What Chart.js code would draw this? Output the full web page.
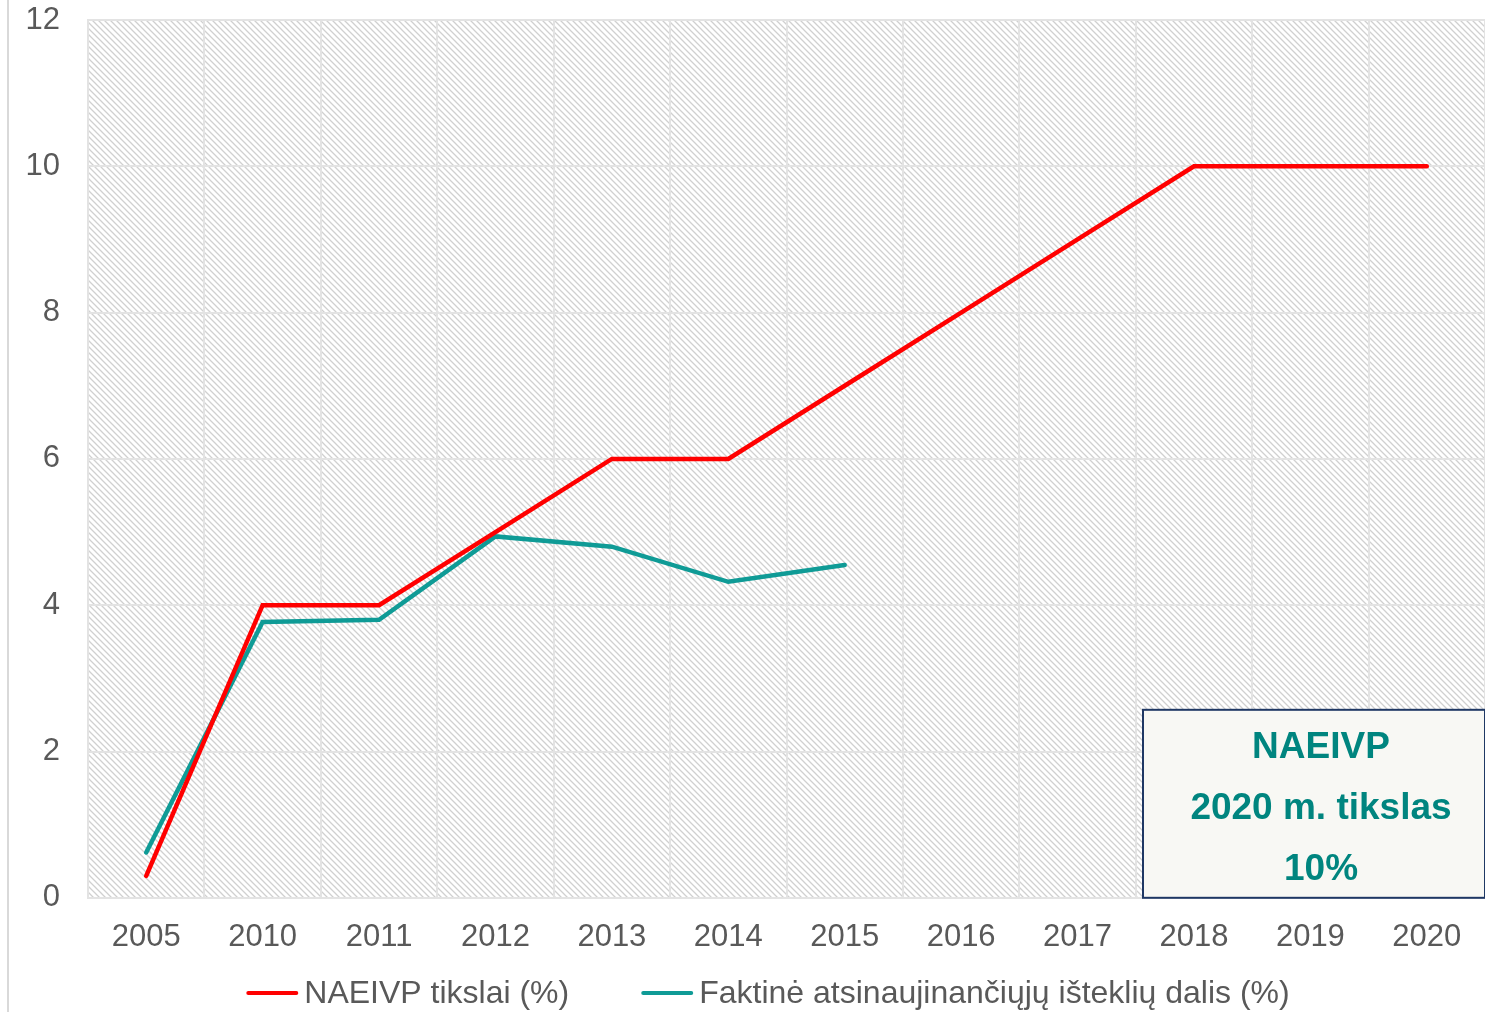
<!DOCTYPE html>
<html>
<head>
<meta charset="utf-8">
<script src="https://cdn.jsdelivr.net/npm/chart.js@4.4.1/dist/chart.umd.min.js"></script>
<style>
    html, body { margin: 0; padding: 0; background: #fff; }
    #wrap { position: relative; width: 1485px; height: 1012px; }
    #edge { position: absolute; left: 7px; top: 0; width: 2px; height: 1012px; background: #d9d9d9; }
</style>
</head>
<body>
<div id="wrap">
    <div id="edge"></div>
    <canvas id="lineChart" width="1485" height="1012"></canvas>
</div>
<script>
// ===== DATA =====
const years = ['2005', '2010', '2011', '2012', '2013', '2014', '2015', '2016', '2017', '2018', '2019', '2020'];
const targetValues = [0.3, 4, 4, 5, 6, 6, 7, 8, 9, 10, 10, 10];
const actualValues = [0.62, 3.77, 3.8, 4.94, 4.8, 4.32, 4.55, null, null, null, null, null];
const seriesNames = ['NAEIVP tikslai (%)', 'Faktinė atsinaujinančiųjų išteklių dalis (%)'];
const boxLines = ['NAEIVP', '2020 m. tikslas', '10%'];

const FONT = '"Liberation Sans", Arial, sans-serif';

// Hatched background pattern
function makeHatch() {
    const c = document.createElement('canvas');
    c.width = 6; c.height = 6;
    const g = c.getContext('2d');
    g.fillStyle = '#ffffff';
    g.fillRect(0, 0, 6, 6);
    g.strokeStyle = '#d0d0d0';
    g.lineWidth = 1.3;
    g.beginPath();
    g.moveTo(-1, -1); g.lineTo(7, 7);
    g.moveTo(-1, 5); g.lineTo(1, 7);
    g.moveTo(5, -1); g.lineTo(7, 1);
    g.stroke();
    return c;
}

const hatchPlugin = {
    id: 'hatch',
    beforeDraw(chart) {
        const { ctx, chartArea } = chart;
        const pat = ctx.createPattern(makeHatch(), 'repeat');
        ctx.save();
        ctx.fillStyle = pat;
        ctx.fillRect(chartArea.left, chartArea.top, chartArea.right - chartArea.left, chartArea.bottom - chartArea.top);
        ctx.restore();
    }
};

// Target note box in the lower right corner
const notePlugin = {
    id: 'note',
    afterDatasetsDraw(chart) {
        const { ctx, chartArea } = chart;
        const w = 342, h = 188;
        const x = chartArea.right - w, y = chartArea.bottom - h;
        ctx.save();
        ctx.fillStyle = '#f8f8f4';
        ctx.fillRect(x, y, w, h);
        ctx.strokeStyle = '#1f3864';
        ctx.lineWidth = 2;
        ctx.strokeRect(x, y, w, h);
        ctx.fillStyle = '#00857f';
        ctx.font = 'bold 37px ' + FONT;
        ctx.textAlign = 'center';
        ctx.textBaseline = 'middle';
        boxLines.forEach((t, i) => {
            ctx.fillText(t, x + w / 2 + 7, y + 38 + i * 61);
        });
        ctx.restore();
    }
};

// Custom legend under the axis (built from the datasets)
const legendPlugin = {
    id: 'customLegend',
    afterDraw(chart) {
        const { ctx } = chart;
        const lineW = 52, gap = 6, itemGap = 72;
        ctx.save();
        ctx.font = '32px ' + FONT;
        const items = chart.data.datasets.map(ds => ({
            text: ds.label, color: ds.borderColor, w: lineW + gap + ctx.measureText(ds.label).width
        }));
        const total = items.reduce((a, it) => a + it.w, 0) + itemGap * (items.length - 1);
        let x = 768 - total / 2;
        const y = 993;
        items.forEach(it => {
            ctx.strokeStyle = it.color;
            ctx.lineWidth = 4;
            ctx.lineCap = 'round';
            ctx.beginPath();
            ctx.moveTo(x + 2, y);
            ctx.lineTo(x + lineW - 2, y);
            ctx.stroke();
            ctx.fillStyle = '#595959';
            ctx.textAlign = 'left';
            ctx.textBaseline = 'middle';
            ctx.fillText(it.text, x + lineW + gap, y + 1);
            x += it.w + itemGap;
        });
        ctx.restore();
    }
};

function createLineChart() {
    const ctx = document.getElementById('lineChart');
    if (!ctx) return;

    new Chart(ctx, {
        type: 'line',
        data: {
            labels: years,
            datasets: [{
                label: seriesNames[0],
                data: targetValues,
                borderColor: '#ff0000',
                backgroundColor: '#ff0000',
                borderWidth: 4.5,
                borderCapStyle: 'round',
                pointRadius: 0,
                tension: 0
            }, {
                label: seriesNames[1],
                data: actualValues,
                borderColor: '#0f9b96',
                backgroundColor: '#0f9b96',
                borderWidth: 4.5,
                borderCapStyle: 'round',
                pointRadius: 0,
                tension: 0,
                spanGaps: false
            }]
        },
        options: {
            responsive: false,
            animation: false,
            layout: { padding: { top: 20, right: 0, bottom: 35, left: 0 } },
            scales: {
                x: {
                    offset: true,
                    grid: { offset: true, color: '#e3e3e3', lineWidth: 2, drawTicks: false },
                    border: { color: '#e3e3e3', width: 2 },
                    ticks: { color: '#595959', font: { family: FONT, size: 31 }, padding: 21, maxRotation: 0 }
                },
                y: {
                    min: 0,
                    max: 12,
                    afterFit: scale => {
                        scale.width = 88;
                        scale.paddingTop = 0;
                        scale.paddingBottom = 0;
                    },
                    grid: { color: '#e3e3e3', lineWidth: 2, drawTicks: false },
                    border: { color: '#e3e3e3', width: 2 },
                    ticks: { stepSize: 2, color: '#595959', font: { family: FONT, size: 31 }, padding: 28 }
                }
            },
            plugins: {
                legend: { display: false },
                tooltip: { enabled: false }
            }
        },
        plugins: [hatchPlugin, notePlugin, legendPlugin]
    });
}

document.addEventListener('DOMContentLoaded', function() {
    createLineChart();
});
</script>
</body>
</html>
